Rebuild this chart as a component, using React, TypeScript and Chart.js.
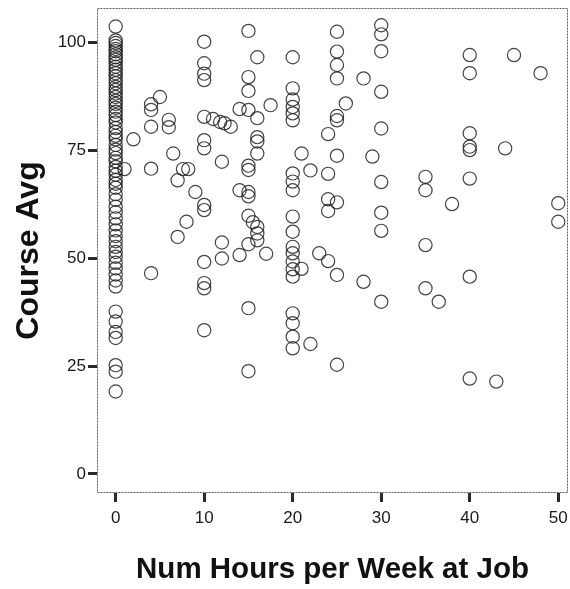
import React, { useEffect, useRef } from "react";
import { Chart, registerables } from "chart.js";

Chart.register(...registerables);

// Students working 0 hours per week (x = 0 column)
const zeroHourAvgs = [
  103.6, 100.4, 99.8, 99.1, 98.4, 97.9, 97.2, 96.5, 95.9, 95.1, 94.3, 93.6, 92.8,
  92.1, 91.2, 90.5, 89.6, 88.9, 88.1, 87.3, 86.4, 85.7, 84.8, 83.9, 83.1, 82.2,
  81.4, 80.1, 79.2, 78.3, 77.5, 76.2, 75.1, 74.3, 73.2, 72.4, 71.1, 70.2, 69.3,
  68.1, 67.2, 66.3, 64.8, 63.5, 61.9, 60.6, 59.2, 57.8, 56.4, 55.1, 53.9, 52.6,
  51.4, 50.3, 48.9, 47.6, 46.2, 44.8, 43.4, 37.6, 35.3, 32.9, 31.5, 25.2, 23.7, 19.1,
];

// Students with a job: hours per week and course average (paired)
const hours = [
  1, 2, 5, 4, 4, 4, 4, 4, 6, 6, 6.5, 7, 7.6, 8.2, 9, 8, 7,
  10, 10, 10, 10, 10, 10, 10, 10, 10, 10, 10, 10, 10,
  11, 11.8, 12.3, 12, 12, 12, 13, 14, 14, 14,
  15, 15, 15, 15, 15, 15, 15, 15, 15, 15, 15, 15,
  16, 16, 16, 16, 16, 16, 16, 16, 15.5, 17.5, 17,
  20, 20, 20, 20, 20, 20, 20, 20, 20, 20, 20, 20, 20, 20, 20, 20, 20, 20, 20, 20,
  21, 21, 22, 22, 23,
  24, 24, 24, 24, 24,
  25, 25, 25, 25, 25, 25, 25, 25, 25, 25,
  26, 28, 28, 29,
  30, 30, 30, 30, 30, 30, 30, 30, 30,
  35, 35, 35, 35, 36.5, 38,
  40, 40, 40, 40, 40, 40, 40, 40,
  43, 44, 45, 48, 50, 50,
];
const avgs = [
  70.6, 77.5, 87.3, 85.6, 84.3, 80.4, 70.7, 46.5, 82.0, 80.3, 74.2, 68.0, 70.6, 70.6, 65.3, 58.4, 54.9,
  100.1, 95.1, 92.7, 91.2, 82.7, 77.3, 75.4, 62.3, 61.1, 49.1, 44.2, 43.0, 33.3,
  82.2, 81.5, 81.2, 72.3, 53.6, 49.9, 80.4, 84.5, 65.7, 50.7,
  102.6, 91.9, 88.7, 84.3, 71.4, 70.4, 65.3, 64.3, 59.8, 53.2, 38.4, 23.8,
  96.5, 82.4, 78.0, 77.0, 74.2, 57.2, 55.7, 54.1, 58.3, 85.4, 51.0,
  96.5, 89.3, 86.7, 85.0, 83.5, 81.9, 69.6, 67.7, 65.7, 59.6, 56.1, 52.6, 51.1, 49.2, 47.4, 45.7, 37.2, 34.9, 31.8, 29.1,
  74.2, 47.5, 70.3, 30.1, 51.1,
  78.7, 69.5, 63.6, 60.9, 49.3,
  102.4, 97.8, 94.7, 91.6, 82.9, 81.9, 73.7, 62.9, 46.1, 25.3,
  85.8, 91.6, 44.5, 73.5,
  103.9, 101.8, 97.9, 88.5, 80.0, 67.6, 60.5, 56.3, 39.9,
  68.8, 65.7, 53.0, 43.0, 39.9, 62.5,
  97.0, 92.8, 78.9, 75.8, 75.0, 68.4, 45.7, 22.1,
  21.4, 75.4, 97.0, 92.8, 62.7, 58.4,
];

const xTicks = [0, 10, 20, 30, 40, 50];
const yTicks = [0, 25, 50, 75, 100];
const xTitle = "Num Hours per Week at Job";
const yTitle = "Course Avg";

const FONT = "'Liberation Sans', Arial, Helvetica, sans-serif";

const framePlugin = {
  id: "frame",
  beforeDatasetsDraw(chart: any) {
    const { ctx, chartArea: a } = chart;
    ctx.save();
    ctx.strokeStyle = "#5a5a5a";
    ctx.lineWidth = 1;
    ctx.setLineDash([2, 1]);
    ctx.strokeRect(a.left + 0.5, a.top + 0.5, a.right - a.left - 1, a.bottom - a.top - 1);
    ctx.restore();
  },
};

export default function App() {
  const ref = useRef<HTMLCanvasElement | null>(null);

  useEffect(() => {
    if (!ref.current) return;
    const points = [
      ...zeroHourAvgs.map((y) => ({ x: 0, y })),
      ...hours.map((x, i) => ({ x, y: avgs[i] })),
    ];
    const chart = new Chart(ref.current, {
      type: "scatter",
      data: {
        datasets: [
          {
            data: points,
            pointStyle: "circle",
            pointRadius: 6.6,
            pointHoverRadius: 6.6,
            pointBorderWidth: 1.2,
            borderColor: "rgba(35,35,35,0.85)",
            backgroundColor: "rgba(0,0,0,0)",
            clip: false as any,
          },
        ],
      },
      options: {
        animation: false,
        responsive: false,
        devicePixelRatio: 1,
        layout: { autoPadding: false, padding: { top: 8, right: 2, left: 0, bottom: 0 } },
        plugins: {
          legend: { display: false },
          tooltip: { enabled: false },
        },
        scales: {
          x: {
            type: "linear",
            min: -2.11,
            max: 51.1,
            afterBuildTicks: (s: any) => {
              s.ticks = xTicks.map((v) => ({ value: v }));
            },
            afterFit: (s: any) => {
              s.height = 96;
              s.paddingLeft = 0;
              s.paddingRight = 0;
            },
            grid: {
              display: true,
              drawOnChartArea: false,
              drawTicks: true,
              tickLength: 9,
              tickWidth: 3,
              tickColor: "#2a2a2a",
            },
            border: { display: false },
            ticks: {
              color: "#1a1a1a",
              padding: 6,
              maxRotation: 0,
              font: { family: FONT, size: 17 },
              callback: (v: any) => String(v),
            },
            title: {
              display: true,
              text: xTitle,
              color: "#111",
              font: { family: FONT, size: 29.5, weight: "bold" },
              padding: { top: 0, bottom: 1 },
            },
          },
          y: {
            type: "linear",
            min: -4.4,
            max: 107.9,
            afterBuildTicks: (s: any) => {
              s.ticks = yTicks.map((v) => ({ value: v }));
            },
            afterFit: (s: any) => {
              s.width = 97;
              s.paddingTop = 0;
              s.paddingBottom = 0;
            },
            grid: {
              display: true,
              drawOnChartArea: false,
              drawTicks: true,
              tickLength: 9,
              tickWidth: 3,
              tickColor: "#2a2a2a",
            },
            border: { display: false },
            ticks: {
              color: "#1a1a1a",
              padding: 2,
              font: { family: FONT, size: 17, lineHeight: 0.7 },
              callback: (v: any) => String(v),
            },
            title: {
              display: true,
              text: yTitle,
              color: "#111",
              font: { family: FONT, size: 32, weight: "bold" },
              padding: { top: 10, bottom: 0 },
            },
          },
        },
      },
      plugins: [framePlugin],
    });
    return () => chart.destroy();
  }, []);

  return (
    <div style={{ position: "absolute", left: 0, top: 0, width: 570, height: 589, background: "#fff" }}>
      <canvas ref={ref} width={570} height={589} style={{ display: "block" }} />
    </div>
  );
}
